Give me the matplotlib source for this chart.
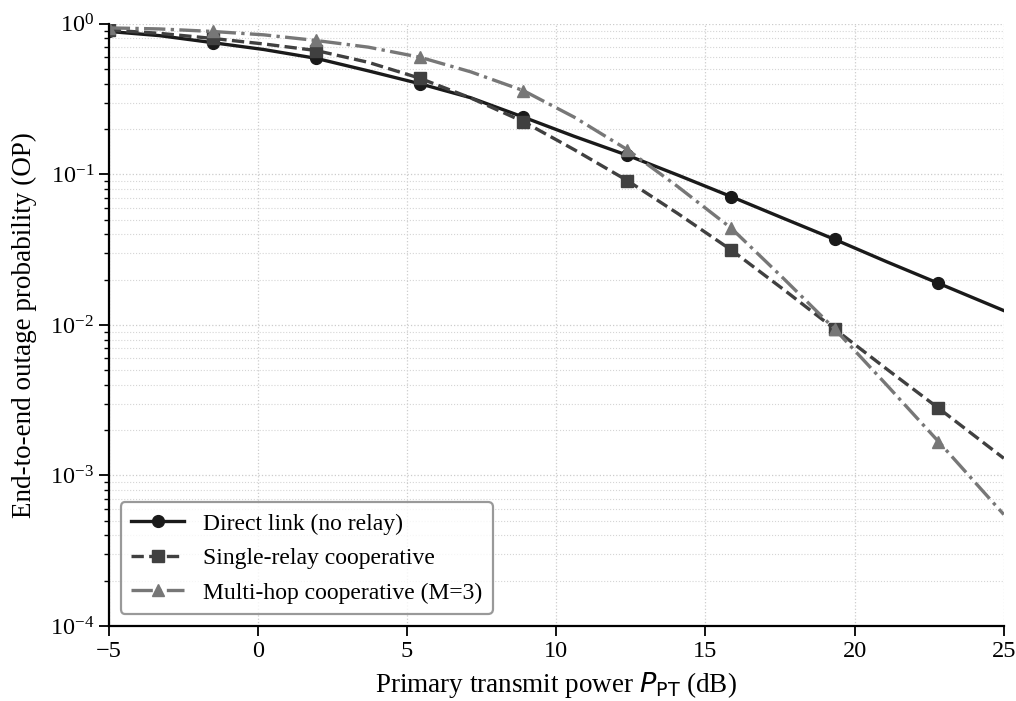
import matplotlib.pyplot as plt

plt.rcParams['font.family'] = ['Liberation Serif', 'DejaVu Serif']
plt.rcParams['mathtext.fontset'] = 'dejavusans'

# values: marker positions and the points half-way between
power_db = [-5, -3.3, -1.52, 0.2, 1.95, 3.7, 5.43, 7.13, 8.9, 10.6,
            12.38, 14.07, 15.86, 17.6, 19.33, 21.07, 22.81, 25]
op_direct = [0.89, 0.835, 0.75, 0.675, 0.59, 0.487, 0.40, 0.323, 0.240, 0.179,
             0.134, 0.099, 0.0712, 0.0512, 0.037, 0.0263, 0.0189, 0.01245]
op_single = [0.91, 0.865, 0.80, 0.735, 0.665, 0.555, 0.435, 0.322, 0.224, 0.146,
             0.091, 0.055, 0.0315, 0.0173, 0.0094, 0.0051, 0.0028, 0.0013]
op_multi = [0.94, 0.925, 0.89, 0.845, 0.775, 0.70, 0.60, 0.48, 0.36, 0.24,
            0.146, 0.083, 0.044, 0.0205, 0.0094, 0.0040, 0.00168, 0.00055]
marks = list(range(0, 17, 2))

fig, ax = plt.subplots(figsize=(10.16, 7.01), dpi=100)

ax.plot(power_db, op_direct, '-', color='#1a1a1a', lw=2.4, marker='o', ms=8.5,
        markevery=marks, label='Direct link (no relay)')
ax.plot(power_db, op_single, '--', color='#404040', lw=2.4, marker='s', ms=8.5,
        markevery=marks, label='Single-relay cooperative')
ax.plot(power_db, op_multi, '-.', color='#777777', lw=2.4, marker='^', ms=8.5,
        markevery=marks, label='Multi-hop cooperative (M=3)')

ax.set_yscale('log')
ax.set_xlim(-5, 25)
ax.set_ylim(1e-4, 1)
ax.set_xlabel(r'Primary transmit power $P_{\mathrm{PT}}$ (dB)', fontsize=19.5, labelpad=6)
ax.set_ylabel('End-to-end outage probability (OP)', fontsize=19.5, labelpad=9)
ax.tick_params(labelsize=17.5)
ax.tick_params(which='major', length=7, width=1.3)
ax.tick_params(which='minor', length=3.5, width=1)
ax.grid(True, which='major', ls=':', color='#cccccc', lw=0.9)
ax.grid(True, which='minor', axis='y', ls=':', color='#d5d5d5', lw=0.8)
for s in ['top', 'right']:
    ax.spines[s].set_visible(False)
for s in ['left', 'bottom']:
    ax.spines[s].set_linewidth(1.6)

leg = ax.legend(loc='lower left', fontsize=17, frameon=True, fancybox=True,
                edgecolor='#808080', handlelength=2.25, handletextpad=0.8,
                borderpad=0.45, labelspacing=0.55, borderaxespad=0.5)
leg.get_frame().set_linewidth(1.6)

fig.subplots_adjust(left=0.107, right=0.988, top=0.966, bottom=0.107)
fig.savefig('out.png', dpi=100)
